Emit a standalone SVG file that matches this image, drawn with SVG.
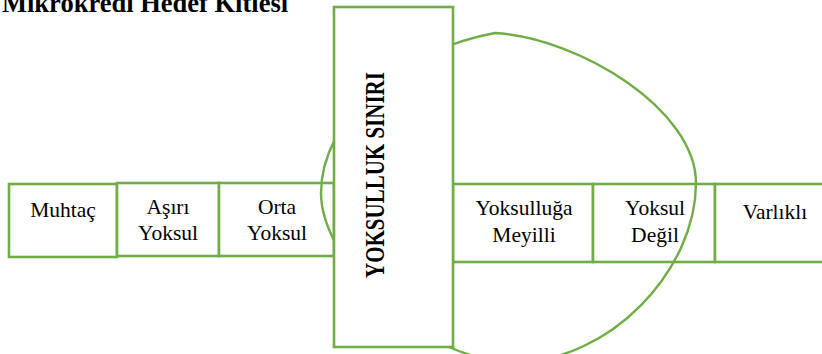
<svg xmlns="http://www.w3.org/2000/svg" width="822" height="354" viewBox="0 0 822 354">
<style>
.box{fill:#fff;stroke:#70AD47;stroke-width:2.6}
.curve{fill:none;stroke:#70AD47;stroke-width:2.4}
text{font-family:'Liberation Serif','Times New Roman',Times,'Tinos','DejaVu Serif',serif;fill:#000}
.t{font-size:21.5px;text-anchor:middle}
.title{font-size:26.5px;font-weight:bold}
.vt{font-size:21px;font-weight:bold;text-anchor:middle}
</style>
<rect width="822" height="354" fill="#fff"/>
<text class="title" x="2" y="12">Mikrokredi Hedef Kitlesi</text>
<g id="muhtac"><rect class="box" x="9" y="184" width="108" height="73"/><text class="t" x="63" y="217">Muhtaç</text></g>
<g id="asiri-yoksul"><rect class="box" x="117" y="183" width="102" height="73"/><text class="t" x="168" y="214">Aşırı</text><text class="t" x="168" y="240">Yoksul</text></g>
<g id="orta-yoksul"><rect class="box" x="219" y="183" width="115" height="73"/><text class="t" x="277" y="214">Orta</text><text class="t" x="277" y="240">Yoksul</text></g>
<g id="yoksulluga-meyilli"><rect class="box" x="453" y="184" width="140" height="78"/><text class="t" x="524" y="215">Yoksulluğa</text><text class="t" x="524" y="242">Meyilli</text></g>
<g id="yoksul-degil"><rect class="box" x="593" y="184" width="122" height="78"/><text class="t" x="655" y="215">Yoksul</text><text class="t" x="655" y="242">Değil</text></g>
<g id="varlikli"><rect class="box" x="715" y="184" width="121" height="78"/><text class="t" x="775" y="219">Varlıklı</text></g>
<g id="connectors">
<path class="curve" d="M321,193 C321,120 400,50 495,33 C580,38 696,110 696,183 C696,270 610,362 515,362 C420,362 321,260 321,193 Z"/>
</g>
<g id="yoksulluk-siniri"><rect class="box" x="334" y="7" width="119" height="340"/><text class="vt" transform="translate(376,175) rotate(-90) scale(1,1.28)" x="0" y="6">YOKSULLUK SINIRI</text></g>
</svg>
